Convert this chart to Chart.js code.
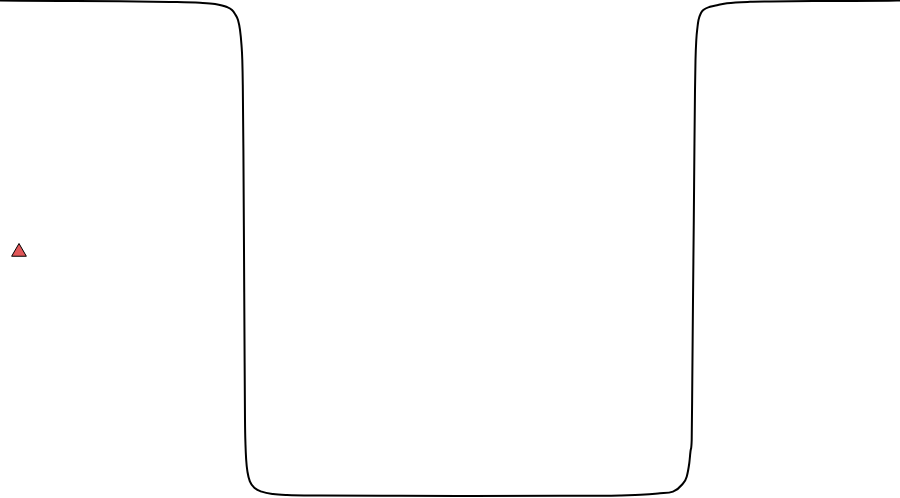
<!DOCTYPE html>
<html>
<head>
<meta charset="utf-8">
<script src="https://cdn.jsdelivr.net/npm/chart.js@4.4.1/dist/chart.umd.min.js"></script>
<style>
  html, body { margin: 0; padding: 0; background: #ffffff; }
  #wrap { width: 900px; height: 498px; position: relative; }
</style>
</head>
<body>
<div id="wrap"><canvas id="c"></canvas></div>
<script>
// Positions along the horizontal axis
const xValues = [
  0, 60, 120, 170, 200, 215, 227, 232, 235, 238, 240, 241.5, 242.3, 242.8, 243.4,
  244, 244.5, 245, 245.5, 246.2, 247.5, 250, 255, 261.7, 273, 287, 320, 400, 470,
  560, 620, 645, 660, 673, 681.7, 686.7, 689.3, 690.7, 691.7, 692.3, 693, 693.8,
  694.4, 695, 695.5, 696.3, 697.5, 698.5, 701, 703.3, 710, 718, 727, 750, 770,
  830, 897, 900
];
// Series values (percent of full height)
const yValues = [
  99.88, 99.82, 99.74, 99.60, 99.44, 99.20, 98.59, 97.99, 97.19, 95.98, 93.98, 90.96, 87.95, 82.93, 69.88,
  49.80, 31.73, 15.66, 10.64, 7.63, 5.22, 3.27, 1.95, 1.27, 0.80, 0.60, 0.50, 0.44, 0.42,
  0.44, 0.52, 0.68, 0.94, 1.27, 2.61, 4.28, 7.03, 9.64, 11.65, 23.69, 39.76, 55.82,
  69.88, 81.93, 87.95, 91.97, 94.58, 95.98, 97.39, 97.99, 98.65, 99.00, 99.34, 99.64, 99.70,
  99.80, 99.90, 99.92
];
const seriesLabel = '';
const xMin = 0, xMax = 900;
const yMin = 0, yMax = 100;

const points = xValues.map((x, i) => ({ x: x, y: yValues[i] }));

new Chart(document.getElementById('c'), {
  type: 'line',
  data: {
    datasets: [{
      label: seriesLabel,
      data: points,
      borderColor: '#000000',
      backgroundColor: '#e15759',
      borderWidth: 2,
      pointRadius: 0,
      pointHoverRadius: 0,
      pointStyle: 'triangle',
      pointBorderWidth: 1,
      fill: false,
      cubicInterpolationMode: 'monotone'
    }]
  },
  options: {
    responsive: true,
    maintainAspectRatio: false,
    animation: false,
    layout: { padding: 0 },
    scales: {
      x: { type: 'linear', min: xMin, max: xMax, display: false },
      y: { type: 'linear', min: yMin, max: yMax, display: false }
    },
    plugins: {
      legend: {
        display: true,
        position: 'chartArea',
        title: { display: true, text: '', padding: 0, font: { size: 5, lineHeight: 1.2 } },
        labels: { usePointStyle: true, padding: 13 }
      },
      tooltip: { enabled: false }
    }
  }
});
</script>
</body>
</html>
